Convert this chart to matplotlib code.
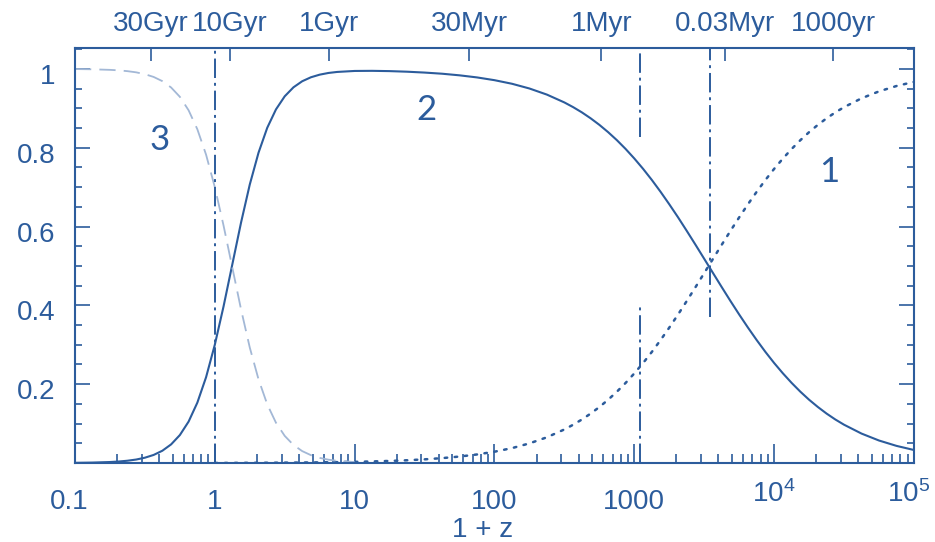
import matplotlib
matplotlib.use("Agg")
import matplotlib.pyplot as plt
from matplotlib.ticker import FixedLocator, LogLocator, NullLocator, MultipleLocator, NullFormatter
from matplotlib.transforms import ScaledTranslation

plt.rcParams['font.family'] = ['Liberation Sans', 'DejaVu Sans']
plt.rcParams['mathtext.fontset'] = 'custom'
plt.rcParams['mathtext.rm'] = 'Liberation Sans'

BLUE = '#2c5c9c'
LIGHT = '#a3b8d6'
NA = float('nan')

# 1 + z sample points
one_plus_z = [0.1, 0.1334, 0.1778, 0.2054, 0.2371, 0.2738, 0.3162, 0.3652,
              0.4217, 0.4870, 0.5623, 0.6494, 0.7499, 0.8660,
              1.0, 1.155, 1.334, 1.540, 1.778, 2.054, 2.371, 2.738,
              3.162, 3.652, 4.217, 4.870, 5.623, 6.494, 7.499, 10.0,
              13.34, 17.78, 23.71, 31.62, 42.17, 56.23, 74.99, 100.0,
              133.4, 177.8, 237.1, 316.2,
              365.2, 421.7, 487.0, 562.3, 649.4, 749.9, 866.0, 1000.0,
              1155.0, 1334.0, 1540.0, 1778.0, 2054.0, 2371.0, 2738.0, 3162.0,
              3652.0, 4217.0, 4870.0, 5623.0, 6494.0, 7499.0, 8660.0, 10000.0,
              11550.0, 13340.0, 15400.0, 17780.0, 20540.0, 23710.0, 27380.0, 31620.0,
              42170.0, 56230.0, 74990.0, 100000.0]

# curve 1: radiation fraction
radiation = [NA, NA, NA, NA, NA, NA, NA, NA,
             NA, NA, NA, NA, NA, NA,
             0.0001, 0.0001, 0.0002, 0.0003, 0.0004, 0.0005, 0.0006, 0.0007,
             0.0009, 0.0010, 0.0012, 0.0014, 0.0016, 0.0019, 0.0022, 0.0029,
             0.0039, 0.0052, 0.0069, 0.0092, 0.0123, 0.0163, 0.0216, 0.0286,
             0.0377, 0.0497, 0.0652, 0.0851,
             0.0970, 0.1103, 0.1253, 0.1419, 0.1604, 0.1807, 0.2030, 0.2273,
             0.2535, 0.2817, 0.3117, 0.3434, 0.3766, 0.4109, 0.4461, 0.4819,
             0.5179, 0.5536, 0.5889, 0.6232, 0.6564, 0.6881, 0.7181, 0.7463,
             0.7725, 0.7968, 0.8191, 0.8395, 0.8580, 0.8746, 0.8896, 0.9029,
             0.9254, 0.9430, 0.9566, 0.9671]

# curve 2: matter fraction
matter = [0.0004, 0.0010, 0.0024, 0.0037, 0.0057, 0.0087, 0.0134, 0.0204,
          0.0311, 0.0472, 0.0708, 0.1050, 0.1531, 0.2177,
          0.3000, 0.3975, 0.5039, 0.6100, 0.7065, 0.7874, 0.8506, 0.8973,
          0.9305, 0.9533, 0.9687, 0.9788, 0.9854, 0.9897, 0.9923, 0.9948,
          0.9951, 0.9944, 0.9929, 0.9907, 0.9878, 0.9837, 0.9784, 0.9714,
          0.9623, 0.9503, 0.9348, 0.9149,
          0.9030, 0.8897, 0.8747, 0.8581, 0.8396, 0.8193, 0.7970, 0.7727,
          0.7465, 0.7183, 0.6883, 0.6566, 0.6235, 0.5891, 0.5539, 0.5181,
          0.4822, 0.4464, 0.4111, 0.3768, 0.3437, 0.3120, 0.2819, 0.2537,
          0.2275, 0.2032, 0.1809, 0.1605, 0.1421, 0.1254, 0.1104, 0.0971,
          0.0746, 0.0570, 0.0434, 0.0329]

# curve 3: dark energy fraction
dark_energy = [0.9996, 0.9990, 0.9976, 0.9963, 0.9943, 0.9913, 0.9866, 0.9796,
               0.9689, 0.9528, 0.9292, 0.8950, 0.8469, 0.7823,
               0.7000, 0.6023, 0.4959, 0.3898, 0.2931, 0.2122, 0.1488, 0.1020,
               0.0687, 0.0457, 0.0301, 0.0198, 0.0129, 0.0084, 0.0055, 0.0023,
               NA, NA, NA, NA, NA, NA, NA, NA,
               NA, NA, NA, NA,
               NA, NA, NA, NA, NA, NA, NA, NA,
               NA, NA, NA, NA, NA, NA, NA, NA,
               NA, NA, NA, NA, NA, NA, NA, NA,
               NA, NA, NA, NA, NA, NA, NA, NA,
               NA, NA, NA, NA]

# vertical markers: (1+z, y_from, y_to)
marker_segments = [(1.0, 0.0, 1.06), (1090.0, 0.828, 1.06), (1090.0, 0.0, 0.403),
                   (3500.0, 0.37, 1.06)]

# cosmic age axis
age_ticks = [0.35, 1.28, 6.6, 66.0, 580.0, 4470.0, 26400.0]
age_labels = ['30Gyr', '10Gyr', '1Gyr', '30Myr', '1Myr', '0.03Myr', '1000yr']

x_ticks = [0.1, 1, 10, 100, 1000, 1e4, 1e5]
x_labels = ['0.1', '1', '10', '100', '1000', r'$\mathregular{10^4}$', r'$\mathregular{10^5}$']
y_ticks = [0.2, 0.4, 0.6, 0.8, 1.0]
y_labels = ['0.2', '0.4', '0.6', '0.8', '1']

curve_labels = [('3', 0.405, 0.82), ('2', 32.7, 0.896), ('1', 24700.0, 0.739)]

fig = plt.figure(figsize=(9.35, 5.42), dpi=100)
ax = fig.add_axes([0.0802, 0.1458, 0.8973, 0.7656])

ax.plot(one_plus_z, radiation, color=BLUE, lw=1.8,
        linestyle=(0, (1, 3)), dash_capstyle='round')
ax.plot(one_plus_z, matter, color=BLUE, lw=1.5)
ax.plot(one_plus_z, dark_energy, color=LIGHT, lw=1.3, linestyle=(0, (9, 4.5)))

for xv, y0, y1 in marker_segments:
    ax.plot([xv, xv], [y0, y1], color=BLUE, lw=1.4,
            linestyle=(0, (10, 2.5, 1.5, 2.5)))

for txt, xv, yv in curve_labels:
    ax.text(xv, yv, txt, color=BLUE, fontsize=25, family=['Lato', 'DejaVu Sans'],
            ha='center', va='center')

ax.set_xscale('log')
ax.set_xlim(0.1, 1e5)
ax.set_ylim(0, 1.053)

for sp in ax.spines.values():
    sp.set_color(BLUE)
    sp.set_linewidth(1.5)

ax.xaxis.set_major_locator(FixedLocator(x_ticks))
ax.xaxis.set_minor_locator(LogLocator(base=10, subs=range(2, 10), numticks=20))
ax.xaxis.set_minor_formatter(NullFormatter())
ax.set_xticklabels(x_labels)
ax.set_yticks([0.0] + y_ticks)
ax.set_yticklabels([''] + y_labels)
ax.yaxis.set_minor_locator(MultipleLocator(0.05))

ax.tick_params(axis='x', which='major', direction='in', length=14, width=1.2,
               color=BLUE, labelcolor=BLUE, labelsize=20, pad=19, top=False)
ax.tick_params(axis='x', which='minor', direction='in', length=6.5, width=1.2,
               color=BLUE, top=False)
ax.tick_params(axis='y', which='major', direction='in', length=11, width=1.2,
               color=BLUE, labelcolor=BLUE, labelsize=20, pad=14, right=True)
ax.tick_params(axis='y', which='minor', direction='in', length=5, width=1.2,
               color=BLUE, right=True)

# nudge a few labels
dpi_t = fig.dpi_scale_trans
for lab in ax.get_yticklabels():
    lab.set_transform(lab.get_transform() + ScaledTranslation(0, -0.05, dpi_t))
xl = ax.get_xticklabels()
xl[0].set_transform(xl[0].get_transform() + ScaledTranslation(-0.06, 0, dpi_t))
xl[5].set_transform(xl[5].get_transform() + ScaledTranslation(0, 0.09, dpi_t))
xl[6].set_transform(xl[6].get_transform() + ScaledTranslation(-0.05, 0.09, dpi_t))

ax.set_xlabel('1 + z', color=BLUE, fontsize=20)
ax.xaxis.set_label_coords(0.486, -0.130)

top = ax.twiny()
top.set_xscale('log')
top.set_xlim(ax.get_xlim())
top.xaxis.set_major_locator(FixedLocator(age_ticks))
top.xaxis.set_minor_locator(NullLocator())
top.set_xticklabels(age_labels)
top.tick_params(axis='x', which='major', direction='in', length=9, width=1.2,
                color=BLUE, labelcolor=BLUE, labelsize=20, pad=8)
for sp in top.spines.values():
    sp.set_visible(False)

fig.savefig('out.png', dpi=100)
